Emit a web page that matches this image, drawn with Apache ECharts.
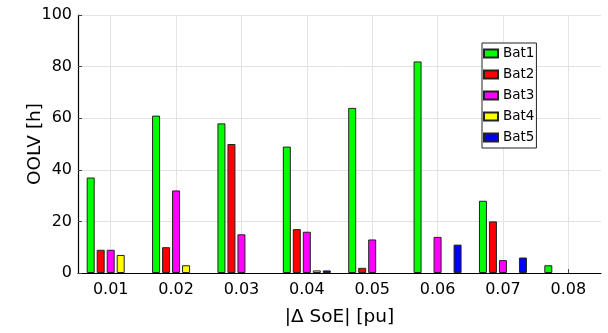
<!DOCTYPE html>
<html>
<head>
<meta charset="utf-8">
<script src="https://cdn.jsdelivr.net/npm/echarts@6/dist/echarts.min.js"></script>
<style>
  html, body { margin: 0; padding: 0; background: #fff; }
  #chart { width: 608px; height: 333px; }
</style>
</head>
<body>
<div id="chart"></div>
<script>
// SoE deviation thresholds and out-of-limit hours per battery
const categories = ['0.01', '0.02', '0.03', '0.04', '0.05', '0.06', '0.07', '0.08'];
const bat1 = [37, 61, 58, 49, 64, 82, 28, 3];
const bat2 = [9, 10, 50, 17, 2, 0, 20, 0];
const bat3 = [9, 32, 15, 16, 13, 14, 5, 0];
const bat4 = [7, 3, 0, 1, 0, 0, 0, 0];
const bat5 = [0, 0, 0, 1, 0, 11, 6, 0];
const seriesNames = ['Bat1', 'Bat2', 'Bat3', 'Bat4', 'Bat5'];
const seriesColors = ['#00ff00', '#ff0000', '#ff00ff', '#ffff00', '#0000ff'];
const yTicks = [0, 20, 40, 60, 80, 100];

const FONT = '"DejaVu Sans", "Liberation Sans", Arial, sans-serif';
const allData = [bat1, bat2, bat3, bat4, bat5];

// zero hours: leave the slot empty instead of drawing a flat outlined bar
const toBarData = arr => arr.map(v => (v === 0 ? null : v));

const chart = echarts.init(document.getElementById('chart'), null, { renderer: 'canvas' });
chart.setOption({
  animation: false,
  backgroundColor: '#ffffff',
  textStyle: { fontFamily: FONT },
  grid: { left: 78, right: 7, top: 15, bottom: 60, containLabel: false },
  legend: {
    orient: 'vertical',
    left: 482,
    top: 43,
    padding: [3, 2, 3, 1],
    itemGap: 6,
    itemWidth: 14,
    itemHeight: 8,
    backgroundColor: '#ffffff',
    borderColor: '#222',
    borderWidth: 1,
    borderRadius: 0,
    textStyle: { fontFamily: FONT, fontSize: 13.5, color: '#000', lineHeight: 15 },
    data: seriesNames.map(n => ({ name: n, icon: 'rect' }))
  },
  xAxis: {
    type: 'category',
    data: categories,
    boundaryGap: true,
    name: '|\u0394 SoE| [pu]',
    nameLocation: 'middle',
    nameGap: 35,
    nameMoveOverlap: false,
    nameTextStyle: { fontFamily: FONT, fontSize: 18.5, color: '#000' },
    axisLine: { lineStyle: { color: '#000', width: 1.2 } },
    axisTick: { show: true, inside: true, length: 4, alignWithLabel: true, lineStyle: { color: '#444' } },
    axisLabel: { fontFamily: FONT, fontSize: 16, color: '#000', margin: 9 },
    splitLine: { show: true, alignWithLabel: true, lineStyle: { color: '#e3e3e3', width: 1 } }
  },
  yAxis: {
    type: 'value',
    min: yTicks[0],
    max: yTicks[yTicks.length - 1],
    interval: 20,
    name: 'OOLV [h]',
    nameLocation: 'middle',
    nameGap: 33,
    nameMoveOverlap: false,
    nameTextStyle: { fontFamily: FONT, fontSize: 18.5, color: '#000' },
    axisLine: { show: true, lineStyle: { color: '#000', width: 1.2 } },
    axisTick: { show: true, inside: true, length: 4, lineStyle: { color: '#444' } },
    axisLabel: { fontFamily: FONT, fontSize: 16, color: '#000', margin: 6 },
    splitLine: { show: true, lineStyle: { color: '#e3e3e3', width: 1 } }
  },
  series: seriesNames.map((name, i) => ({
    name: name,
    type: 'bar',
    data: toBarData(allData[i]),
    barWidth: 8,
    barGap: '25%',
    itemStyle: { color: seriesColors[i], borderColor: '#222', borderWidth: 1 }
  }))
});
</script>
</body>
</html>
